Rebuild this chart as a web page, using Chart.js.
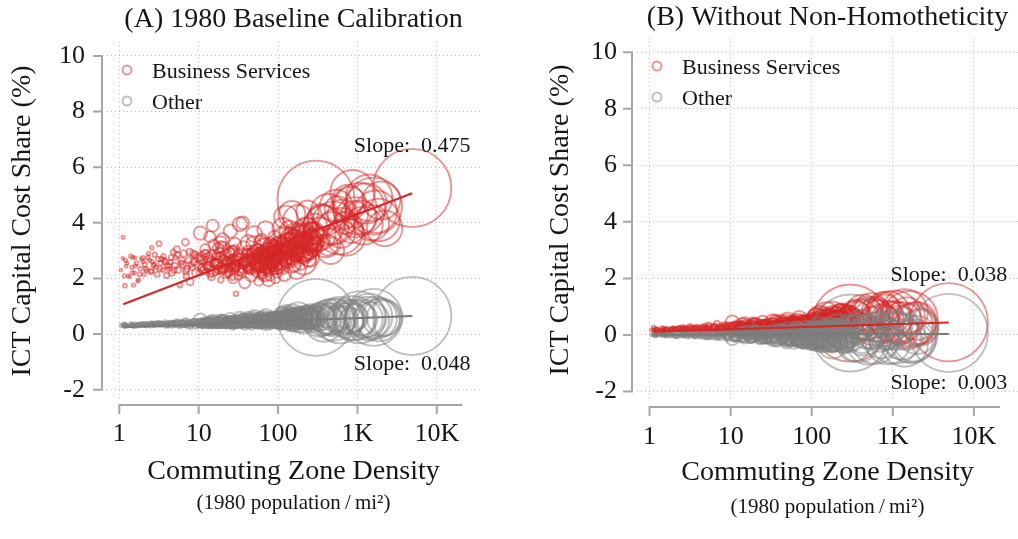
<!DOCTYPE html>
<html lang="en">
<head>
<meta charset="UTF-8">
<title>ICT Capital Cost Share by Commuting Zone Density</title>
<script src="https://cdn.jsdelivr.net/npm/chart.js"></script>
<style>
  body { margin: 0; background: #fff; }
  #wrap { position: relative; width: 1018px; height: 539px; }
  canvas { position: absolute; top: 0; }
  #chartA { left: 0; }
  #chartB { left: 509px; }
</style>
</head>
<body>
<div id="wrap">
  <canvas id="chartA" width="509" height="539"></canvas>
  <canvas id="chartB" width="509" height="539"></canvas>
</div>
<script>
// one entry per commuting zone: 1980 density (pop / mi^2) and population (thousands)
const density = [
  1.12, 1.11, 1.16, 1.18, 1.22, 1.44, 1.48, 1.59, 1.51, 1.75,
  1.98, 2.22, 2.57, 2.70, 1.30, 2.40, 3.17, 3.60, 3.96, 4.40,
  5.00, 5.30, 5.80, 6.10, 7.10, 7.80, 8.50, 9.20, 3.30, 4.80,
  6.80, 8.00, 9.70, 4.10, 10.5, 11, 12, 13.8, 14.5, 15,
  16, 17.5, 18, 19, 20, 21, 22.5, 24, 25, 26,
  27, 28.5, 29.5, 12.5, 17, 23, 31, 33, 35, 36,
  38, 40, 42, 44, 46, 48, 50, 52, 55, 57,
  60, 62, 65, 68, 70, 73, 76, 80, 83, 86,
  90, 93, 96, 99, 45, 58, 75, 88, 105, 110,
  115, 120, 125, 130, 138, 145, 150, 158, 165, 172,
  180, 190, 200, 210, 220, 235, 250, 265, 280, 290,
  300, 330, 350, 380, 400, 430, 460, 500, 540, 600,
  650, 720, 800, 870, 950, 1050, 1200, 1400, 1600, 1850,
  2200, 4900,
  1.05, 1.2, 1.35, 1.4, 1.55, 1.65, 1.7, 1.85, 1.9, 2.05,
  2.1, 2.3, 2.5, 2.6, 2.8, 2.9, 3.0, 3.4, 3.5, 3.8,
  4.2, 4.6, 5.1, 5.5, 6.0, 6.5, 7.0, 7.5, 8.3, 9.0,
  10, 10.8, 11.5, 12.2, 13, 13.5, 14, 15.5, 16.5, 17.2,
  18.5, 19.5, 20.5, 21.5, 22, 23.5, 24.5, 25.5, 26.5, 27.5,
  28, 29, 10.2, 11.2, 12.8, 14.8, 15.8, 18.8, 20.2, 22.8,
  24.2, 26.2, 27.8, 29.2, 13.2, 16.8, 19.2, 21.2, 25.2, 28.8,
  30, 32, 34, 37, 39, 41, 43, 47, 49, 51,
  53, 54, 56, 59, 61, 63, 64, 66, 67, 69,
  71, 72, 74, 77, 78, 79, 81, 82, 84, 85,
  87, 89, 91, 92, 94, 95, 97, 98, 34.5, 39.5,
  44.5, 48.5, 53.5, 58.5, 63.5, 68.5, 73.5, 78.5, 83.5, 88.5,
  93.5, 31.5, 37.5, 42.5, 47.5, 52.5, 57.5, 62.5, 67.5, 72.5,
  102, 108, 112, 118, 122, 128, 134, 141, 147, 153,
  161, 168, 175, 185, 195, 205, 215, 228, 242, 258,
  272, 285, 107, 117, 132, 155, 178, 198, 225, 262,
  104, 127, 143, 163, 187, 213, 232, 248, 275, 295,
  320, 360, 420, 480, 560, 620, 700, 760, 840, 920,
  1100, 1300, 1500, 1700, 2000,
  1.25, 1.45, 1.6, 1.8, 2.0, 2.15, 2.35, 2.55, 2.75, 3.1,
  3.25, 3.7, 4.0, 4.5, 4.9, 5.4, 6.3, 6.9, 7.7, 8.8,
  10.3, 11.3, 12.3, 13.3, 14.3, 15.3, 16.3, 17.3, 18.3, 19.3,
  20.8, 22.3, 23.8, 25.3, 26.8, 28.3, 30.5, 32.5, 34, 36.5,
  38.5, 40.5, 42, 44, 46.5, 49.5, 51.5, 54.5, 56.5, 59.5,
  61.5, 64.5, 66.5, 69.5, 71.5, 74.5, 77.5, 80.5, 84.5, 87.5,
  91.5, 95.5, 98.5, 103, 106, 111, 116, 121, 126, 131,
  136, 142, 149, 156, 163, 170, 177, 184, 193, 202,
  212, 222, 232, 245, 255, 268, 282, 293, 35.5, 65.5,
  45.5, 55.5, 75.5, 85.5, 140, 160, 200, 240, 120, 95
];
const population = [
  30, 20, 35, 40, 25, 30, 28, 22, 35, 30,
  45, 40, 38, 50, 18, 30, 70, 55, 80, 60,
  90, 110, 65, 120, 95, 140, 100, 160, 50, 75,
  130, 85, 200, 45, 500, 150, 250, 350, 120, 400,
  200, 300, 180, 90, 450, 220, 160, 350, 500, 130,
  270, 380, 60, 100, 140, 240, 300, 550, 200, 450,
  350, 250, 600, 180, 400, 320, 700, 280, 500, 220,
  650, 380, 260, 550, 800, 300, 450, 600, 350, 700,
  400, 250, 550, 300, 150, 200, 170, 220, 900, 600,
  1200, 500, 1500, 800, 700, 1000, 2000, 600, 1300, 900,
  2500, 750, 1100, 1800, 650, 1400, 1000, 2200, 800, 1600,
  16500, 3000, 2000, 4500, 2500, 3500, 2000, 5000, 3000, 6000,
  2500, 4000, 3000, 5500, 4500, 7500, 4000, 6000, 9000, 5000,
  3500, 17000,
  25, 30, 20, 35, 28, 40, 22, 45, 30, 35,
  50, 40, 60, 35, 55, 45, 70, 60, 40, 80,
  65, 90, 55, 100, 75, 120, 85, 110, 90, 130,
  150, 200, 120, 300, 180, 250, 100, 350, 220, 160,
  280, 130, 400, 190, 240, 150, 320, 200, 110, 260,
  350, 170, 90, 230, 140, 300, 190, 420, 160, 250,
  130, 380, 210, 180, 270, 120, 330, 150, 240, 200,
  250, 400, 180, 500, 300, 220, 450, 350, 600, 280,
  200, 480, 330, 260, 550, 190, 420, 310, 650, 240,
  380, 210, 520, 290, 440, 170, 600, 330, 250, 470,
  360, 200, 580, 270, 430, 320, 500, 230, 160, 300,
  210, 340, 260, 410, 180, 370, 240, 450, 290, 520,
  280, 190, 310, 230, 460, 270, 350, 200, 390, 250,
  500, 800, 400, 1100, 650, 900, 450, 1200, 700, 550,
  1000, 600, 850, 1300, 500, 950, 700, 1400, 600, 1100,
  750, 1200, 350, 600, 1000, 450, 800, 1300, 550, 900,
  700, 500, 1100, 400, 900, 650, 1500, 500, 1200, 800,
  1500, 2500, 1200, 3000, 1800, 2200, 1400, 2800, 1600, 2000,
  3000, 4500, 3500, 5000, 4000,
  25, 35, 30, 40, 28, 45, 35, 50, 40, 55,
  60, 50, 75, 65, 90, 80, 110, 95, 120, 140,
  180, 240, 160, 300, 200, 260, 170, 320, 230, 280,
  210, 350, 190, 300, 250, 330, 380, 270, 450, 320,
  400, 290, 500, 350, 280, 420, 330, 480, 260, 550,
  310, 460, 370, 520, 280, 430, 350, 580, 300, 490,
  410, 530, 360, 700, 550, 850, 600, 950, 500, 750,
  650, 1000, 550, 800, 1100, 600, 900, 700, 1200, 650,
  1000, 750, 1300, 850, 600, 1100, 700, 950, 350, 450,
  300, 400, 500, 380, 800, 650, 900, 750, 700, 550
];

// (A) 1980 baseline calibration, ICT capital cost share (%)
const bizA = [
  3.48, 2.72, 2.09, 1.74, 2.44, 2.40, 2.76, 2.74, 1.76, 1.94,
  2.74, 2.29, 3.10, 2.46, 2.10, 2.65, 3.25, 2.80, 2.11, 2.58,
  2.46, 3.05, 1.76, 2.64, 2.35, 1.88, 2.90, 2.20, 2.55, 2.95,
  3.30, 2.50, 2.75, 2.35, 3.63, 2.40, 2.85, 3.50, 2.05, 3.90,
  2.60, 3.10, 2.30, 1.95, 3.40, 2.70, 2.15, 2.95, 3.70, 2.45,
  2.00, 3.25, 1.45, 2.25, 2.80, 2.55, 2.60, 3.95, 2.20, 4.00,
  1.85, 2.90, 3.30, 2.40, 2.10, 2.75, 3.60, 2.30, 3.00, 1.90,
  2.55, 3.40, 2.65, 2.15, 3.75, 2.85, 1.95, 3.15, 2.45, 2.70,
  3.50, 2.00, 2.90, 2.35, 2.95, 2.50, 2.20, 3.25, 3.20, 2.40,
  3.80, 2.15, 4.20, 2.80, 3.40, 2.55, 4.30, 3.05, 3.60, 2.30,
  4.10, 2.95, 3.30, 2.60, 3.70, 4.40, 2.75, 3.50, 3.10, 3.90,
  4.85, 3.60, 4.20, 3.90, 3.30, 4.40, 3.00, 4.00, 4.60, 3.70,
  4.30, 3.50, 4.70, 5.10, 4.20, 4.50, 3.90, 4.90, 4.60, 4.10,
  3.80, 5.25,
  2.30, 2.65, 2.05, 2.80, 2.20, 2.55, 1.90, 2.35, 2.70, 2.15,
  2.50, 2.75, 2.25, 2.60, 2.85, 2.40, 2.15, 2.70, 2.30, 2.60,
  2.45, 2.20, 2.75, 2.30, 2.55, 2.90, 2.10, 2.65, 2.40, 2.85,
  2.50, 2.80, 2.30, 3.05, 2.45, 2.65, 2.15, 3.20, 2.55, 2.35,
  2.75, 2.25, 3.10, 2.50, 2.60, 2.20, 2.90, 2.40, 2.05, 2.70,
  3.00, 2.35, 2.20, 2.65, 2.45, 2.85, 2.55, 3.30, 2.30, 2.60,
  2.15, 2.95, 2.50, 2.40, 2.75, 2.25, 3.15, 2.35, 2.65, 2.50,
  2.45, 2.80, 2.25, 3.10, 2.60, 2.35, 2.95, 2.70, 3.25, 2.50,
  2.20, 3.00, 2.65, 2.40, 3.30, 2.10, 2.85, 2.55, 3.15, 2.35,
  2.75, 2.25, 3.05, 2.50, 2.90, 2.05, 3.20, 2.60, 2.40, 2.95,
  2.70, 2.30, 3.10, 2.55, 2.85, 2.45, 3.00, 2.20, 2.35, 2.65,
  2.30, 2.70, 2.45, 2.90, 2.15, 2.80, 2.40, 3.00, 2.55, 3.15,
  2.65, 2.10, 2.55, 2.35, 2.85, 2.50, 2.75, 2.25, 2.95, 2.60,
  2.80, 3.20, 2.50, 3.50, 2.95, 3.30, 2.60, 3.70, 3.05, 2.75,
  3.40, 2.85, 3.15, 3.60, 2.55, 3.35, 2.90, 3.80, 2.70, 3.45,
  3.10, 3.65, 2.40, 2.95, 3.25, 2.65, 3.00, 3.55, 2.85, 3.30,
  2.60, 2.90, 3.45, 2.45, 3.20, 2.80, 3.75, 2.95, 3.60, 3.25,
  3.40, 4.10, 3.20, 3.80, 4.50, 3.60, 4.00, 4.80, 3.70, 4.30,
  4.20, 4.70, 4.00, 4.40, 4.80,
  2.55, 2.20, 2.45, 2.15, 2.60, 2.35, 2.90, 2.25, 2.50, 2.70,
  2.35, 2.65, 2.45, 2.75, 2.30, 2.85, 2.50, 2.25, 2.95, 2.60,
  2.70, 2.35, 2.90, 2.45, 2.60, 2.25, 2.80, 2.50, 2.95, 2.40,
  2.65, 2.85, 2.35, 2.55, 3.00, 2.45, 2.70, 2.30, 2.85, 2.55,
  2.65, 2.45, 2.80, 2.55, 2.35, 2.95, 2.60, 2.45, 2.75, 2.85,
  2.40, 2.90, 2.70, 2.55, 2.35, 3.05, 2.60, 2.80, 2.50, 2.95,
  2.65, 3.00, 2.80, 2.70, 3.10, 2.85, 3.25, 2.95, 2.65, 3.15,
  3.00, 3.30, 2.75, 3.10, 3.40, 2.90, 3.20, 3.05, 3.50, 2.85,
  3.15, 3.35, 3.05, 3.25, 2.95, 3.40, 3.20, 3.55, 2.70, 2.95,
  2.60, 2.80, 2.75, 3.05, 3.15, 2.95, 3.45, 3.20, 2.75, 2.85
];
const otherA = [
  0.33, 0.30, 0.36, 0.28, 0.32, 0.35, 0.30, 0.38, 0.27, 0.33,
  0.36, 0.31, 0.40, 0.34, 0.29, 0.37, 0.38, 0.35, 0.32, 0.40,
  0.36, 0.42, 0.30, 0.38, 0.34, 0.31, 0.44, 0.33, 0.36, 0.39,
  0.46, 0.37, 0.40, 0.33, 0.50, 0.36, 0.41, 0.44, 0.33, 0.48,
  0.39, 0.43, 0.35, 0.32, 0.46, 0.40, 0.34, 0.45, 0.52, 0.37,
  0.33, 0.47, 0.30, 0.38, 0.42, 0.39, 0.42, 0.55, 0.37, 0.50,
  0.36, 0.44, 0.53, 0.40, 0.38, 0.46, 0.58, 0.41, 0.48, 0.35,
  0.50, 0.54, 0.43, 0.40, 0.60, 0.47, 0.38, 0.52, 0.44, 0.49,
  0.57, 0.39, 0.51, 0.45, 0.45, 0.42, 0.40, 0.50, 0.52, 0.45,
  0.60, 0.42, 0.62, 0.50, 0.55, 0.47, 0.58, 0.49, 0.56, 0.44,
  0.60, 0.52, 0.54, 0.48, 0.58, 0.55, 0.50, 0.57, 0.53, 0.60,
  0.60, 0.50, 0.62, 0.45, 0.55, 0.60, 0.48, 0.52, 0.65, 0.50,
  0.58, 0.55, 0.62, 0.57, 0.50, 0.60, 0.55, 0.62, 0.60, 0.50,
  0.58, 0.65,
  0.31, 0.34, 0.29, 0.36, 0.32, 0.30, 0.35, 0.33, 0.37, 0.31,
  0.34, 0.38, 0.32, 0.36, 0.33, 0.39, 0.35, 0.37, 0.34, 0.40,
  0.36, 0.33, 0.39, 0.35, 0.41, 0.37, 0.34, 0.40, 0.36, 0.42,
  0.37, 0.40, 0.34, 0.43, 0.36, 0.39, 0.33, 0.45, 0.38, 0.35,
  0.42, 0.34, 0.47, 0.38, 0.40, 0.35, 0.44, 0.37, 0.32, 0.41,
  0.44, 0.36, 0.35, 0.41, 0.37, 0.43, 0.39, 0.48, 0.36, 0.40,
  0.34, 0.45, 0.39, 0.37, 0.42, 0.35, 0.46, 0.36, 0.41, 0.38,
  0.40, 0.46, 0.37, 0.50, 0.43, 0.39, 0.48, 0.44, 0.53, 0.41,
  0.38, 0.51, 0.45, 0.42, 0.55, 0.37, 0.49, 0.44, 0.56, 0.40,
  0.47, 0.39, 0.52, 0.43, 0.50, 0.36, 0.55, 0.46, 0.41, 0.51,
  0.46, 0.40, 0.54, 0.44, 0.50, 0.42, 0.53, 0.39, 0.38, 0.45,
  0.39, 0.46, 0.42, 0.49, 0.37, 0.47, 0.41, 0.51, 0.44, 0.53,
  0.45, 0.36, 0.43, 0.40, 0.49, 0.42, 0.47, 0.39, 0.50, 0.44,
  0.46, 0.53, 0.42, 0.58, 0.49, 0.55, 0.44, 0.60, 0.51, 0.47,
  0.56, 0.48, 0.53, 0.60, 0.43, 0.57, 0.50, 0.62, 0.46, 0.58,
  0.52, 0.61, 0.40, 0.50, 0.55, 0.45, 0.52, 0.59, 0.48, 0.56,
  0.44, 0.50, 0.57, 0.42, 0.54, 0.48, 0.62, 0.50, 0.59, 0.55,
  0.55, 0.48, 0.60, 0.52, 0.58, 0.45, 0.62, 0.55, 0.50, 0.60,
  0.55, 0.62, 0.50, 0.58, 0.60,
  0.30, 0.34, 0.31, 0.35, 0.33, 0.36, 0.32, 0.37, 0.35, 0.38,
  0.34, 0.37, 0.35, 0.39, 0.36, 0.40, 0.37, 0.41, 0.38, 0.42,
  0.40, 0.37, 0.42, 0.39, 0.43, 0.38, 0.44, 0.40, 0.45, 0.41,
  0.43, 0.40, 0.46, 0.42, 0.47, 0.41, 0.45, 0.43, 0.48, 0.44,
  0.46, 0.43, 0.49, 0.45, 0.42, 0.50, 0.46, 0.44, 0.51, 0.47,
  0.48, 0.44, 0.52, 0.47, 0.45, 0.53, 0.49, 0.46, 0.54, 0.50,
  0.47, 0.53, 0.49, 0.51, 0.56, 0.48, 0.55, 0.52, 0.50, 0.57,
  0.53, 0.49, 0.58, 0.52, 0.56, 0.50, 0.59, 0.54, 0.57, 0.51,
  0.56, 0.52, 0.60, 0.54, 0.58, 0.53, 0.61, 0.55, 0.44, 0.50,
  0.47, 0.48, 0.51, 0.53, 0.54, 0.57, 0.55, 0.58, 0.50, 0.49
];

// (B) without non-homotheticity
const bizB = [
  0.28, 0.20, 0.16, 0.13, 0.22, 0.19, 0.25, 0.23, 0.15, 0.17,
  0.24, 0.21, 0.29, 0.22, 0.18, 0.26, 0.30, 0.24, 0.18, 0.26,
  0.22, 0.33, 0.17, 0.27, 0.23, 0.19, 0.35, 0.21, 0.25, 0.31,
  0.38, 0.25, 0.30, 0.20, 0.45, 0.24, 0.31, 0.40, 0.20, 0.42,
  0.29, 0.36, 0.25, 0.21, 0.39, 0.30, 0.23, 0.34, 0.44, 0.27,
  0.22, 0.37, 0.18, 0.26, 0.32, 0.28, 0.31, 0.48, 0.26, 0.50,
  0.24, 0.35, 0.44, 0.29, 0.27, 0.36, 0.52, 0.30, 0.40, 0.25,
  0.38, 0.46, 0.33, 0.30, 0.55, 0.37, 0.28, 0.43, 0.34, 0.40,
  0.50, 0.30, 0.42, 0.33, 0.34, 0.31, 0.30, 0.45, 0.48, 0.33,
  0.58, 0.30, 0.62, 0.40, 0.50, 0.38, 0.68, 0.45, 0.55, 0.35,
  0.65, 0.42, 0.52, 0.40, 0.60, 0.70, 0.38, 0.56, 0.47, 0.62,
  0.42, 0.30, 0.75, 0.55, 0.35, 0.80, 0.28, 0.60, 0.90, 0.45,
  0.70, 0.40, 0.85, 0.75, 0.50, 0.65, 0.35, 0.80, 0.55, 0.40,
  0.30, 0.45,
  0.18, 0.22, 0.16, 0.24, 0.19, 0.21, 0.14, 0.20, 0.23, 0.18,
  0.21, 0.25, 0.19, 0.23, 0.26, 0.20, 0.18, 0.24, 0.21, 0.27,
  0.22, 0.19, 0.26, 0.21, 0.24, 0.29, 0.18, 0.26, 0.22, 0.30,
  0.26, 0.30, 0.23, 0.34, 0.25, 0.29, 0.21, 0.36, 0.27, 0.24,
  0.31, 0.23, 0.37, 0.27, 0.29, 0.22, 0.33, 0.26, 0.21, 0.30,
  0.35, 0.25, 0.23, 0.30, 0.26, 0.32, 0.28, 0.40, 0.24, 0.29,
  0.22, 0.34, 0.28, 0.26, 0.31, 0.24, 0.36, 0.25, 0.30, 0.27,
  0.30, 0.38, 0.27, 0.43, 0.33, 0.29, 0.41, 0.36, 0.46, 0.32,
  0.28, 0.42, 0.35, 0.31, 0.47, 0.27, 0.40, 0.34, 0.48, 0.30,
  0.37, 0.29, 0.44, 0.33, 0.41, 0.27, 0.47, 0.36, 0.32, 0.43,
  0.38, 0.30, 0.46, 0.35, 0.42, 0.33, 0.45, 0.29, 0.28, 0.34,
  0.29, 0.36, 0.32, 0.40, 0.27, 0.38, 0.31, 0.42, 0.34, 0.45,
  0.36, 0.27, 0.33, 0.30, 0.40, 0.32, 0.38, 0.29, 0.41, 0.35,
  0.38, 0.50, 0.33, 0.58, 0.42, 0.53, 0.36, 0.62, 0.45, 0.40,
  0.56, 0.43, 0.50, 0.64, 0.37, 0.57, 0.46, 0.68, 0.41, 0.60,
  0.48, 0.66, 0.32, 0.44, 0.54, 0.39, 0.47, 0.63, 0.43, 0.58,
  0.36, 0.45, 0.59, 0.35, 0.52, 0.42, 0.70, 0.46, 0.65, 0.55,
  0.50, 0.65, 0.40, 0.70, 0.55, 0.85, 0.45, 0.95, 0.60, 0.70,
  0.60, 0.45, 0.70, 0.35, 0.50,
  0.20, 0.17, 0.22, 0.19, 0.24, 0.21, 0.26, 0.20, 0.23, 0.25,
  0.22, 0.26, 0.24, 0.28, 0.23, 0.29, 0.25, 0.22, 0.30, 0.27,
  0.29, 0.25, 0.32, 0.27, 0.30, 0.24, 0.33, 0.28, 0.35, 0.26,
  0.30, 0.34, 0.27, 0.31, 0.37, 0.29, 0.33, 0.28, 0.38, 0.32,
  0.34, 0.30, 0.38, 0.33, 0.29, 0.40, 0.35, 0.31, 0.39, 0.42,
  0.32, 0.41, 0.37, 0.35, 0.31, 0.44, 0.36, 0.40, 0.34, 0.45,
  0.38, 0.46, 0.41, 0.40, 0.48, 0.42, 0.52, 0.45, 0.39, 0.50,
  0.46, 0.54, 0.41, 0.49, 0.57, 0.44, 0.52, 0.47, 0.60, 0.43,
  0.50, 0.56, 0.47, 0.53, 0.45, 0.58, 0.51, 0.63, 0.33, 0.40,
  0.35, 0.37, 0.38, 0.44, 0.48, 0.45, 0.55, 0.50, 0.42, 0.41
];
const otherB = [
  0.02, 0.00, 0.04, -0.02, 0.03, 0.01, 0.05, -0.03, 0.02, 0.00,
  0.06, -0.04, 0.03, 0.01, 0.02, -0.01, 0.05, -0.03, 0.02, 0.07,
  -0.05, 0.04, -0.06, 0.02, -0.02, 0.08, 0.00, -0.09, 0.03, -0.04,
  0.06, 0.01, -0.03, 0.00, -0.12, 0.05, -0.06, 0.08, -0.02, 0.10,
  0.00, -0.10, 0.04, -0.05, 0.12, -0.08, 0.06, -0.13, 0.09, -0.01,
  0.03, -0.09, 0.02, 0.01, 0.05, -0.03, 0.07, -0.15, 0.11, -0.05,
  -0.18, 0.02, 0.14, -0.10, 0.05, -0.20, 0.18, 0.00, -0.13, 0.09,
  -0.22, 0.16, -0.05, 0.20, -0.08, 0.04, -0.25, 0.12, -0.15, 0.22,
  -0.02, 0.07, -0.28, 0.15, 0.01, -0.04, 0.03, 0.06, -0.20, 0.18,
  0.05, -0.30, 0.22, -0.12, 0.10, -0.25, 0.00, 0.25, -0.18, 0.12,
  -0.30, 0.20, -0.08, 0.28, -0.22, 0.08, -0.33, 0.15, -0.12, 0.30,
  0.07, -0.35, 0.20, -0.25, 0.35, -0.10, 0.25, -0.30, 0.10, -0.20,
  0.30, -0.15, 0.05, -0.25, 0.20, -0.10, 0.15, -0.30, 0.05, -0.20,
  0.25, 0.07,
  0.01, -0.01, 0.03, 0.00, -0.02, 0.04, 0.01, -0.03, 0.02, 0.00,
  -0.04, 0.03, 0.05, -0.02, 0.01, -0.05, 0.04, 0.02, -0.03, 0.06,
  -0.04, 0.05, -0.06, 0.03, 0.07, -0.05, 0.02, -0.07, 0.06, -0.02,
  0.04, -0.06, 0.08, -0.02, 0.06, -0.09, 0.02, 0.10, -0.05, 0.03,
  -0.10, 0.05, 0.11, -0.07, 0.01, 0.08, -0.11, 0.04, -0.03, 0.07,
  -0.08, 0.06, 0.03, -0.05, 0.09, -0.12, 0.02, 0.12, -0.06, 0.05,
  0.07, -0.10, 0.03, -0.04, 0.10, -0.07, 0.05, -0.02, 0.09, -0.09,
  0.06, -0.12, 0.14, -0.18, 0.03, 0.10, -0.08, 0.17, -0.22, 0.01,
  0.12, -0.15, 0.05, -0.06, 0.19, -0.20, 0.08, -0.03, 0.21, -0.11,
  0.09, -0.17, 0.15, -0.04, 0.18, -0.09, -0.24, 0.06, 0.13, -0.14,
  0.02, 0.16, -0.19, 0.07, -0.12, 0.20, -0.06, 0.11, -0.08, 0.04,
  -0.07, 0.13, -0.16, 0.09, 0.15, -0.10, 0.05, -0.21, 0.17, -0.02,
  0.10, -0.13, 0.07, 0.16, -0.18, 0.03, -0.09, 0.14, -0.23, 0.08,
  0.08, -0.22, 0.15, -0.10, 0.25, -0.28, 0.02, 0.18, -0.15, 0.11,
  -0.05, 0.22, -0.30, 0.06, 0.28, -0.18, 0.13, -0.08, 0.20, -0.25,
  0.04, -0.12, 0.19, -0.20, 0.10, 0.26, -0.32, 0.01, 0.16, -0.06,
  -0.17, 0.21, -0.04, 0.12, -0.27, 0.07, -0.13, 0.24, -0.09, 0.14,
  -0.15, 0.20, -0.28, 0.10, -0.05, 0.28, -0.20, 0.15, -0.10, 0.05,
  0.20, -0.15, 0.10, -0.25, 0.00,
  -0.01, 0.02, -0.03, 0.03, 0.00, -0.04, 0.04, -0.02, 0.05, -0.03,
  0.04, -0.05, 0.06, -0.04, 0.07, -0.06, 0.05, -0.07, 0.08, -0.05,
  0.07, -0.08, 0.09, -0.06, 0.10, -0.09, 0.06, -0.10, 0.11, -0.07,
  0.09, -0.11, 0.12, -0.08, 0.13, -0.12, 0.10, -0.14, 0.15, -0.09,
  0.14, -0.16, 0.11, -0.13, 0.17, -0.15, 0.12, -0.18, 0.19, -0.10,
  0.16, -0.19, 0.13, -0.17, 0.20, -0.14, 0.18, -0.21, 0.11, -0.16,
  0.21, -0.23, 0.14, -0.20, 0.24, -0.26, 0.19, -0.17, 0.26, -0.22,
  0.17, -0.28, 0.23, -0.15, 0.27, -0.24, 0.12, -0.30, 0.22, -0.19,
  0.25, -0.27, 0.18, -0.31, 0.29, -0.21, 0.26, -0.29, 0.12, -0.14,
  -0.11, 0.15, -0.20, 0.18, -0.23, 0.21, -0.26, 0.24, -0.16, 0.20
];

// fitted lines (end points) and their slopes
const fitX = [1.12, 4900];
const fitBizA = [1.07, 5.06];
const fitOtherA = [0.25, 0.65];
const fitBizB = [0.12, 0.44];
const fitOtherB = [0.01, 0.035];
const slopesA = ['0.475', '0.048'];
const slopesB = ['0.038', '0.003'];

// axes
const xTicks = [1, 10, 100, 1000, 10000];
const xTickLabels = ['1', '10', '100', '1K', '10K'];
const yTicks = [-2, 0, 2, 4, 6, 8, 10];

const SERIF = "'Liberation Serif', 'Times New Roman', serif";
const RED = '#d62728';
const RED_BUB = 'rgba(214, 39, 40, 0.5)';
const GRAY = '#7a7a7a';
const GRAY_BUB = 'rgba(128, 128, 128, 0.5)';
const TEXT = '#161616';

function bubbles(ys) {
  return density.map((d, i) => ({ x: d, y: ys[i], r: 0.3 * Math.sqrt(population[i]) }));
}

// range-frame axes, legend and slope labels
const framePlugin = {
  id: 'frame',
  afterDraw(chart, args, opts) {
    const { ctx, chartArea, scales: { x, y } } = chart;
    const gap = opts.gap;
    const ax = chartArea.left - gap;
    const ay = chartArea.bottom + gap;
    ctx.save();
    ctx.strokeStyle = '#a6a6a6';
    ctx.lineWidth = 2;
    ctx.beginPath();
    ctx.moveTo(ax, y.getPixelForValue(10) - 1);
    ctx.lineTo(ax, y.getPixelForValue(-2) + 1);
    yTicks.forEach(v => {
      const py = y.getPixelForValue(v);
      ctx.moveTo(ax - 9, py);
      ctx.lineTo(ax, py);
    });
    ctx.moveTo(x.getPixelForValue(1) - 1, ay);
    ctx.lineTo(x.getPixelForValue(21000), ay);
    xTicks.forEach(v => {
      const px = x.getPixelForValue(v);
      ctx.moveTo(px, ay);
      ctx.lineTo(px, ay + 9);
    });
    ctx.stroke();

    // legend
    ctx.font = '22px ' + SERIF;
    ctx.fillStyle = TEXT;
    ctx.textBaseline = 'alphabetic';
    ctx.textAlign = 'left';
    chart.data.datasets.filter(d => d.inLegend).forEach((d, i) => {
      const cy = chartArea.top + 28 + i * 31;
      ctx.beginPath();
      ctx.strokeStyle = d.borderColor;
      ctx.lineWidth = 2;
      ctx.arc(chartArea.left + 20, cy, 4.5, 0, Math.PI * 2);
      ctx.stroke();
      ctx.fillText(d.label, chartArea.left + 45, cy + 8);
    });

    // slope labels at the end of each fitted line
    ctx.textAlign = 'center';
    chart.data.datasets.filter(d => d.slope).forEach(d => {
      const end = d.data[d.data.length - 1];
      ctx.fillText('Slope:  ' + d.slope, x.getPixelForValue(end.x), y.getPixelForValue(end.y + d.slopeShift));
    });
    ctx.restore();
  }
};

function makePanel(id, p) {
  const tickFont = { family: SERIF, size: 26 };
  const titleFont = { family: SERIF, size: 28 };
  return new Chart(document.getElementById(id), {
    type: 'bubble',
    data: {
      datasets: [
        { label: 'Business Services', data: bubbles(p.biz), borderColor: RED_BUB,
          backgroundColor: 'rgba(0,0,0,0)', borderWidth: 1.9, order: 2, inLegend: true },
        { label: 'Other', data: bubbles(p.other), borderColor: GRAY_BUB,
          backgroundColor: 'rgba(0,0,0,0)', borderWidth: 1.9, order: 1, inLegend: true },
        { type: 'line', label: 'fit biz', data: fitX.map((x, i) => ({ x: x, y: p.fitBiz[i] })),
          borderColor: RED, borderWidth: 2.2, pointRadius: 0, order: 0, slope: p.slopes[0], slopeShift: 1.47 },
        { type: 'line', label: 'fit other', data: fitX.map((x, i) => ({ x: x, y: p.fitOther[i] })),
          borderColor: GRAY, borderWidth: 2.2, pointRadius: 0, order: 0, slope: p.slopes[1], slopeShift: -1.95 }
      ]
    },
    options: {
      responsive: false,
      animation: false,
      events: [],
      layout: { autoPadding: false, padding: { left: 0, right: p.padRight, top: 0, bottom: 0 } },
      plugins: {
        legend: { display: false },
        tooltip: { enabled: false },
        title: { display: true, text: p.title, fullSize: false, color: TEXT,
          font: { family: SERIF, size: 28, weight: 'normal' }, padding: p.titlePad },
        subtitle: { display: true, position: 'bottom', fullSize: false, color: TEXT,
          text: '(1980 population\u2009/\u2009mi\u00b2)',
          font: { family: SERIF, size: 21, weight: 'normal' }, padding: { top: 0, bottom: p.subPad } },
        frame: { gap: 5 }
      },
      scales: {
        x: {
          type: 'logarithmic', min: 0.7, max: 35000,
          afterBuildTicks: s => { s.ticks = xTicks.map(v => ({ value: v })); },
          afterFit: s => { s.height = p.xHeight; s.paddingLeft = 0; s.paddingRight = 0; },
          ticks: { callback: (v, i) => xTickLabels[i], font: tickFont, color: TEXT,
            padding: p.xTickPad, maxRotation: 0, autoSkip: false },
          grid: { color: '#bdbdbd', drawTicks: false },
          border: { display: false, dash: [1, 3] },
          title: { display: true, text: 'Commuting Zone Density', font: titleFont, color: TEXT,
            padding: { top: 0, bottom: p.xTitlePad } }
        },
        y: {
          min: -2.37, max: 10.5,
          afterBuildTicks: s => { s.ticks = yTicks.map(v => ({ value: v })); },
          afterFit: s => { s.width = p.yWidth; s.paddingTop = 0; s.paddingBottom = 0; },
          ticks: { callback: v => String(v), font: tickFont, color: TEXT, padding: p.yTickPad },
          grid: { color: '#bdbdbd', drawTicks: false },
          border: { display: false, dash: [1, 3] },
          title: { display: true, text: 'ICT Capital Cost Share (%)', font: titleFont, color: TEXT,
            padding: { top: p.yTitlePad, bottom: 0 } }
        }
      }
    },
    plugins: [framePlugin]
  });
}

makePanel('chartA', {
  title: '(A) 1980 Baseline Calibration',
  biz: bizA, other: otherA, fitBiz: fitBizA, fitOther: fitOtherA, slopes: slopesA,
  yWidth: 107, padRight: 29, titlePad: { top: 3, bottom: 5.4 },
  xHeight: 90.4, xTitlePad: 1.6, xTickPad: 19, subPad: 23.4, yTitlePad: 6, yTickPad: 22
});

makePanel('chartB', {
  title: '(B) Without Non-Homotheticity',
  biz: bizB, other: otherB, fitBiz: fitBizB, fitOther: fitOtherB, slopes: slopesB,
  yWidth: 128, padRight: 0, titlePad: { top: 1, bottom: 3.4 },
  xHeight: 92.4, xTitlePad: 4.6, xTickPad: 19.4, subPad: 19.4, yTitlePad: 35, yTickPad: 20
});
</script>
</body>
</html>
